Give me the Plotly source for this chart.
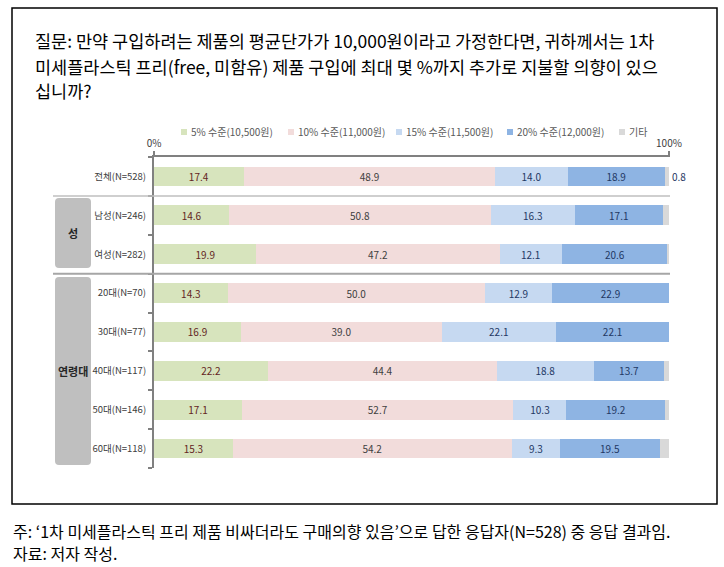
import plotly.graph_objects as go

# ---- data ----
groups = ["전체(N=528)", "남성(N=246)", "여성(N=282)", "20대(N=70)", "30대(N=77)",
          "40대(N=117)", "50대(N=146)", "60대(N=118)"]
series_names = ["5% 수준(10,500원)", "10% 수준(11,000원)", "15% 수준(11,500원)",
                "20% 수준(12,000원)", "기타"]
pct5 = [17.4, 14.6, 19.9, 14.3, 16.9, 22.2, 17.1, 15.3]
pct10 = [48.9, 50.8, 47.2, 50.0, 39.0, 44.4, 52.7, 54.2]
pct15 = [14.0, 16.3, 12.1, 12.9, 22.1, 18.8, 10.3, 9.3]
pct20 = [18.9, 17.1, 20.6, 22.9, 22.1, 13.7, 19.2, 19.5]
other = [0.8, 1.2, 0.2, 0.0, 0.0, 0.9, 0.7, 1.7]
x_ticks = [0, 100]
x_tick_text = ["0%", "100%"]

title_lines = [
    "질문: 만약 구입하려는 제품의 평균단가가 10,000원이라고 가정한다면, 귀하께서는 1차",
    "미세플라스틱 프리(free, 미함유) 제품 구입에 최대 몇 %까지 추가로 지불할 의향이 있으",
    "십니까?",
]
note_lines = [
    "주: ‘1차 미세플라스틱 프리 제품 비싸더라도 구매의향 있음’으로 답한 응답자(N=528) 중 응답 결과임.",
    "자료: 저자 작성.",
]

colors = ["#d7e4bd", "#f2dcdb", "#c6d9f1", "#8eb4e3", "#d9d9d9"]
text_colors = ["#632523", "#404040", "#1f3864", "#1f3864", "#1f3864"]
FONT = "Noto Sans CJK KR"

# ---- figure geometry (pixels) ----
W, H = 724, 567
L, R, T, B = 154, 54, 157, 99
PW, PH = W - L - R, H - T - B


def fx(px):
    return (px - L) / PW


def fy(py):
    return (H - B - py) / PH


def round_box(x0, y0, x1, y1, r):
    pts = [("M", x0 + r, y0), ("L", x1 - r, y0), ("Q", x1, y0, x1, y0 + r),
           ("L", x1, y1 - r), ("Q", x1, y1, x1 - r, y1), ("L", x0 + r, y1),
           ("Q", x0, y1, x0, y1 - r), ("L", x0, y0 + r), ("Q", x0, y0, x0 + r, y0)]
    out = []
    for p in pts:
        cmd, vals = p[0], p[1:]
        coords = []
        for i in range(0, len(vals), 2):
            coords.append(f"{fx(vals[i]):.5f},{fy(vals[i + 1]):.5f}")
        out.append(cmd + " ".join(coords))
    return " ".join(out) + " Z"


fig = go.Figure()
ypos = list(range(len(groups)))
all_series = [pct5, pct10, pct15, pct20, other]
for k, vals in enumerate(all_series):
    if k == 4:
        labels = [f"{v:.1f}" if i == 0 else "" for i, v in enumerate(vals)]
        pos = "outside"
    else:
        labels = [f"{v:.1f}" for v in vals]
        pos = "inside"
    fig.add_trace(go.Bar(
        y=ypos, x=vals, orientation="h", name=series_names[k],
        marker=dict(color=colors[k], line=dict(width=0)),
        text=labels, textposition=pos, insidetextanchor="middle",
        textangle=0, constraintext="none", cliponaxis=False,
        textfont=dict(size=10, color=text_colors[k], family=FONT),
        showlegend=False,
    ))

shapes = [
    # outer frame
    dict(type="rect", xref="paper", yref="paper", x0=fx(12), x1=fx(717),
         y0=fy(8), y1=fy(504), line=dict(color="#000000", width=1.5)),
    # group separators
    dict(type="line", xref="paper", yref="y", x0=fx(53), x1=1.0, y0=0.5, y1=0.5,
         line=dict(color="#bfbfbf", width=1.5)),
    dict(type="line", xref="paper", yref="y", x0=fx(53), x1=1.0, y0=2.5, y1=2.5,
         line=dict(color="#a6a6a6", width=2)),
    # group boxes
    dict(type="path", xref="paper", yref="paper", path=round_box(55, 198, 91, 268, 4),
         fillcolor="#bfbfbf", line=dict(width=0)),
    dict(type="path", xref="paper", yref="paper", path=round_box(55, 277, 91, 465, 4),
         fillcolor="#bfbfbf", line=dict(width=0)),
]

annotations = []
for txt, py in zip(title_lines, [40, 66, 91]):
    annotations.append(dict(text=txt, x=fx(33), y=fy(py), xref="paper", yref="paper",
                            xanchor="left", yanchor="middle", showarrow=False,
                            font=dict(size=17.5, color="#000000", family=FONT)))
for txt, py in zip(note_lines, [531, 553]):
    annotations.append(dict(text=txt, x=fx(11), y=fy(py), xref="paper", yref="paper",
                            xanchor="left", yanchor="middle", showarrow=False,
                            font=dict(size=16, color="#000000", family=FONT)))
for txt, py in [("성", 233), ("연령대", 371)]:
    annotations.append(dict(text=f"<b>{txt}</b>", x=fx(73), y=fy(py), xref="paper",
                            yref="paper", xanchor="center", yanchor="middle",
                            showarrow=False,
                            font=dict(size=11, color="#262626", family=FONT)))

# legend drawn as squares + labels
leg_sq = [181, 288, 396, 507, 619]
for k, name in enumerate(series_names):
    sx = leg_sq[k]
    shapes.append(dict(type="rect", xref="paper", yref="paper", x0=fx(sx), x1=fx(sx + 6),
                       y0=fy(135), y1=fy(129), fillcolor=colors[k], line=dict(width=0)))
    annotations.append(dict(text=name, x=fx(sx + 8), y=fy(132), xref="paper",
                            yref="paper", xanchor="left", yanchor="middle",
                            showarrow=False,
                            font=dict(size=10, color="#595959", family=FONT)))

fig.update_layout(
    width=W, height=H,
    margin=dict(l=L, r=R, t=T, b=B, pad=0),
    barmode="stack", bargap=0.49,
    paper_bgcolor="white", plot_bgcolor="white",
    font=dict(family=FONT, color="#404040"),
    shapes=shapes, annotations=annotations,
    xaxis=dict(range=[0, 100.2], side="top", showgrid=False, zeroline=False,
               showline=True, linecolor="#808080", linewidth=2,
               tickvals=x_ticks, ticktext=x_tick_text, ticks="outside",
               ticklen=4, tickcolor="#808080", tickwidth=1.5,
               tickfont=dict(size=10, color="#404040", family=FONT)),
    yaxis=dict(range=[len(groups) - 0.5, -0.5], showgrid=False, zeroline=False,
               showline=True, linecolor="#808080", linewidth=2,
               tickvals=ypos, ticktext=groups, ticks="",
               ticklabelstandoff=4,
               tickfont=dict(size=9.5, color="#404040", family=FONT),
               minor=dict(tickvals=[i - 0.5 for i in range(len(groups) + 1)],
                          ticks="outside", ticklen=4, tickcolor="#808080",
                          tickwidth=1.5, showgrid=False)),
)

# page body has a default margin; drop it so the figure sits at the window origin
fig.write_html("out.html", config={"displayModeBar": False},
               post_script="document.body.style.margin='0';")
